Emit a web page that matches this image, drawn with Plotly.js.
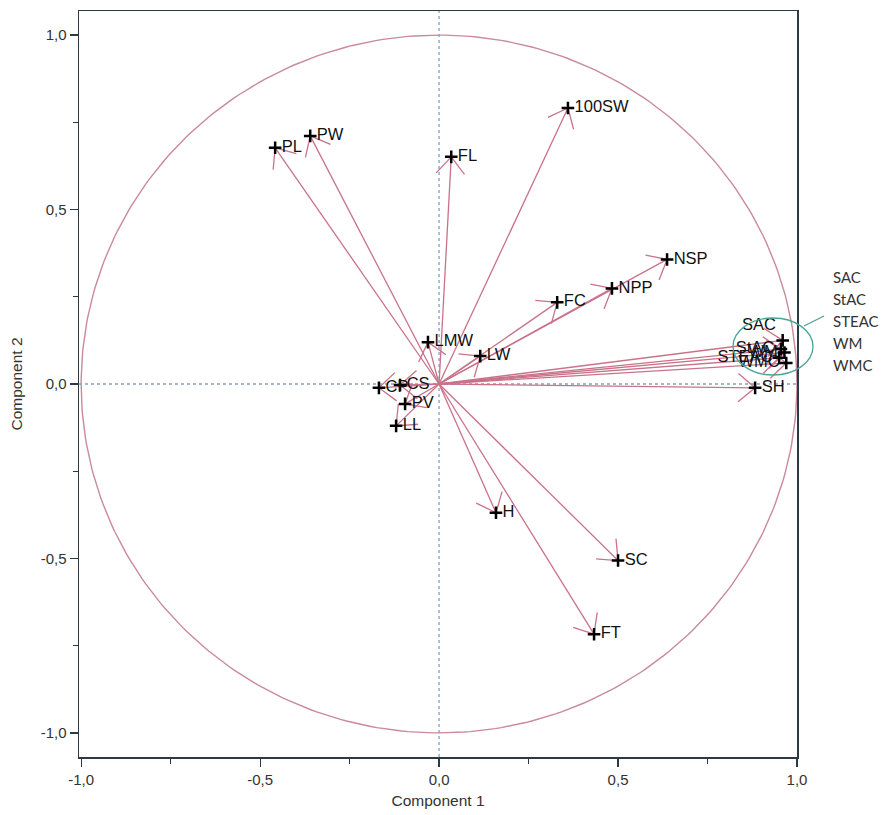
<!DOCTYPE html>
<html>
<head>
<meta charset="utf-8">
<script src="https://cdn.plot.ly/plotly-3.0.1.min.js"></script>
<style>html,body{margin:0;padding:0;background:#fff;}#chart{width:881px;height:815px;}</style>
</head>
<body>
<div id="chart"></div>
<script>
// ---- data ----
const labels = ["100SW","PW","PL","FL","NSP","NPP","FC","LMW","LW","CP","CS","PV","LL","H","SC","FT","SH","SAC","StAC","STEAC","WM","WMC"];
const comp1  = [0.360,-0.360,-0.458,0.034,0.637,0.483,0.330,-0.031,0.115,-0.168,-0.109,-0.095,-0.120,0.159,0.500,0.433,0.883,0.960,0.955,0.950,0.965,0.970];
const comp2  = [0.791,0.711,0.677,0.651,0.357,0.274,0.234,0.120,0.080,-0.011,-0.003,-0.057,-0.120,-0.369,-0.506,-0.717,-0.011,0.125,0.100,0.075,0.090,0.060];
const labelPos = ["middle right","middle right","middle right","middle right","middle right","middle right","middle right","middle right","middle right","middle right","middle right","middle right","middle right","middle right","middle right","middle right","middle right","top left","middle left","middle left","middle left","middle left"];
const sideLabels = ["SAC","StAC","STEAC","WM","WMC"];
const tickVals = [-1,-0.5,0,0.5,1];
const tickText = ["-1,0","-0,5","0,0","0,5","1,0"];
const minorVals = [-0.75,-0.25,0.25,0.75];

// ---- layout geometry ----
const W = 881, H = 815;
const mL = 79, mR = 84, mT = 11, mB = 58;
const xr = [-1.006, 1.0], yr = [-1.069, 1.069];
const sx = (W - mL - mR) / (xr[1] - xr[0]);
const sy = (H - mT - mB) / (yr[1] - yr[0]);

const vecColor = "#c9728a";

// shafts and barbs built from the data
const lx = [], ly = [];
const barbLen = 22, barbAng = 40 * Math.PI / 180;
for (let i = 0; i < labels.length; i++) {
  const x = comp1[i], y = comp2[i];
  lx.push(0, x, null); ly.push(0, y, null);
  let px = -x * sx, py = y * sy; // screen: y down
  const n = Math.hypot(px, py);
  px /= n; py /= n;
  for (const s of [1, -1]) {
    const a = s * barbAng;
    const bx = px * Math.cos(a) - py * Math.sin(a);
    const by = px * Math.sin(a) + py * Math.cos(a);
    lx.push(x + bx * barbLen / sx, x, null);
    ly.push(y - by * barbLen / sy, y, null);
  }
}

// unit circle
const cx = [], cy = [];
for (let k = 0; k <= 360; k++) {
  const t = k * Math.PI / 180;
  cx.push(Math.cos(t)); cy.push(Math.sin(t));
}

const traces = [
  {x: cx, y: cy, mode: "lines", line: {color: "#c98a9a", width: 1.4}, hoverinfo: "skip"},
  {x: [xr[0], xr[1]], y: [0, 0], mode: "lines", line: {color: "#86a0c0", width: 1.3, dash: "3px,3px"}, hoverinfo: "skip"},
  {x: [0, 0], y: [yr[0], yr[1]], mode: "lines", line: {color: "#86a0c0", width: 1.3, dash: "3px,3px"}, hoverinfo: "skip"},
  {x: lx, y: ly, mode: "lines", line: {color: vecColor, width: 1.3}, connectgaps: false, hoverinfo: "skip"},
  {x: comp1, y: comp2, mode: "markers+text", text: labels, textposition: labelPos,
   textfont: {family: "Liberation Sans, Arial, sans-serif", size: 16.5, color: "#111"},
   marker: {symbol: "cross-thin", size: 9, line: {color: "#000", width: 2.5}},
   cliponaxis: false, hoverinfo: "text"}
];

const annotations = sideLabels.map((t, i) => ({
  xref: "paper", yref: "paper",
  x: (831 - mL) / (W - mL - mR), y: (H - mB - (277 + i * 22)) / (H - mT - mB),
  xanchor: "left", yanchor: "middle", showarrow: false, text: t,
  font: {family: "Lato, Open Sans, sans-serif", size: 15, color: "#333"}
}));

const pw = W - mL - mR, ph = H - mT - mB;
const shapes = [
  {type: "circle", xref: "paper", yref: "paper",
   x0: (733 - mL) / pw, x1: (813 - mL) / pw, y0: (H - mB - 375) / ph, y1: (H - mB - 318) / ph,
   line: {color: "#4aa597", width: 1.3}},
  {type: "line", xref: "paper", yref: "paper",
   x0: (804 - mL) / pw, x1: (824 - mL) / pw, y0: (H - mB - 326) / ph, y1: (H - mB - 316) / ph,
   line: {color: "#4aa597", width: 1.3}}
];

const axisCommon = {
  showgrid: false, zeroline: false, showline: true, mirror: true,
  linecolor: "#2c3a44", linewidth: 1.5,
  ticks: "outside", ticklen: 8, tickwidth: 1.2, tickcolor: "#2c3a44",
  tickmode: "array", tickvals: tickVals, ticktext: tickText,
  tickfont: {family: "Liberation Sans, Arial, sans-serif", size: 15, color: "#333"},
  minor: {tickmode: "array", tickvals: minorVals, ticks: "outside", ticklen: 5, tickcolor: "#2c3a44", tickwidth: 1}
};

const layout = {
  width: W, height: H,
  margin: {l: mL, r: mR, t: mT, b: mB},
  paper_bgcolor: "#fff", plot_bgcolor: "#fff",
  showlegend: false,
  xaxis: Object.assign({}, axisCommon, {range: xr,
    title: {text: "Component 1", font: {family: "Liberation Sans, Arial, sans-serif", size: 15.5, color: "#333"}, standoff: 8}}),
  yaxis: Object.assign({}, axisCommon, {range: yr,
    title: {text: "Component 2", font: {family: "Liberation Sans, Arial, sans-serif", size: 15.5, color: "#333"}, standoff: 14}}),
  annotations: annotations,
  shapes: shapes
};

Plotly.newPlot("chart", traces, layout, {displayModeBar: false, staticPlot: true});
</script>
</body>
</html>
